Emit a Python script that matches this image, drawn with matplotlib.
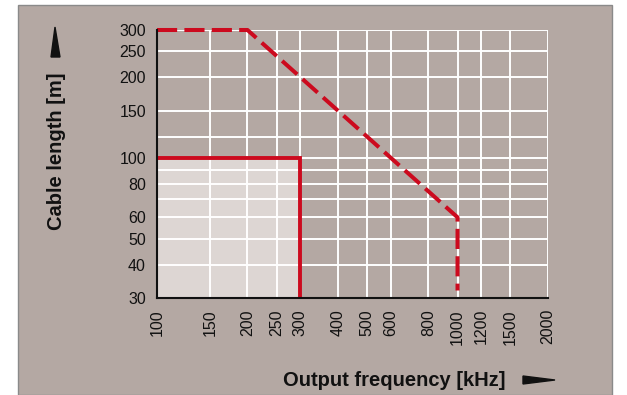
import matplotlib
matplotlib.use("Agg")
import matplotlib.pyplot as plt
from matplotlib.patches import Polygon, Rectangle
from matplotlib.ticker import FixedLocator, NullLocator, NullFormatter

# ---- data ----
x_ticks = [100, 150, 200, 250, 300, 400, 500, 600, 800, 1000, 1200, 1500, 2000]
y_ticks = [30, 40, 50, 60, 80, 100, 150, 200, 250, 300]
y_grid = [40, 50, 60, 70, 80, 90, 100, 120, 150, 200, 250, 300]

solid_x = [100, 300, 300]
solid_y = [100, 100, 30]

dashed_x = [100, 200, 1000, 1000]
dashed_y = [300, 300, 60, 32]

fill_x = [100, 300]
fill_top = 100
fill_bottom = 30

bg = "#b4a8a3"
red = "#cc0a1e"

plt.rcParams['font.family'] = ['Liberation Sans', 'DejaVu Sans']

fig = plt.figure(figsize=(6.27, 3.95), dpi=100)
fig.patch.set_facecolor("white")
fig.patches.append(Rectangle((18/627, 0), (612-18)/627, 1 - 5/395, transform=fig.transFigure,
                             facecolor=bg, edgecolor="#8a8a8a", linewidth=1.0, zorder=-5))

ax = fig.add_axes([157/627, 1-298/395, (548-157)/627, (298-30)/395])
ax.set_zorder(2)
ax.set_facecolor(bg)
ax.patch.set_alpha(0)
ax.set_xscale('log')
ax.set_yscale('log')
ax.set_xlim(100, 2000)
ax.set_ylim(30, 300)

# fill
ax.fill_between(fill_x, fill_bottom, fill_top, color="#ddd6d3", zorder=1, linewidth=0)

# grid
for xv in x_ticks[1:]:
    ax.axvline(xv, color="white", lw=1.4, zorder=2)
for yv in y_grid:
    ax.axhline(yv, color="white", lw=1.4, zorder=2)

ax.plot(solid_x, solid_y, color=red, lw=2.8, zorder=4, solid_joinstyle='miter')
ax.plot(dashed_x, dashed_y, color=red, lw=2.9, zorder=4, dashes=(5, 1.8), clip_on=False)

ax.xaxis.set_major_locator(FixedLocator(x_ticks))
ax.xaxis.set_minor_locator(NullLocator())
ax.xaxis.set_minor_formatter(NullFormatter())
ax.set_xticklabels([str(v) for v in x_ticks], rotation=90, fontsize=11.5)
ax.yaxis.set_major_locator(FixedLocator(y_ticks))
ax.yaxis.set_minor_locator(NullLocator())
ax.yaxis.set_minor_formatter(NullFormatter())
ax.set_yticklabels([str(v) for v in y_ticks], fontsize=11.5)
ax.tick_params(axis='both', length=0, pad=8, colors="#111111")

for s in ['top', 'right']:
    ax.spines[s].set_visible(False)
for s in ['left', 'bottom']:
    ax.spines[s].set_color("#111111")
    ax.spines[s].set_linewidth(1.5)
    ax.spines[s].set_zorder(5)

# axis labels
fig.text(57/627, 1-151/395, "Cable length [m]", rotation=90, ha='center', va='center',
         fontsize=14.5, fontweight='bold', color="#111111")
fig.text(394/627, 1-380/395, "Output frequency [kHz]", ha='center', va='center',
         fontsize=14.5, fontweight='bold', color="#111111")

# arrows
fig.patches.append(Polygon([[51/627, 1-57/395], [60/627, 1-57/395], [55/627, 1-27/395]],
                           closed=True, transform=fig.transFigure, color="#111111", zorder=3))
fig.patches.append(Polygon([[523/627, 1-376/395], [523/627, 1-384/395], [555/627, 1-380/395]],
                           closed=True, transform=fig.transFigure, color="#111111", zorder=3))

fig.savefig("out.png", dpi=100, facecolor=fig.get_facecolor())
